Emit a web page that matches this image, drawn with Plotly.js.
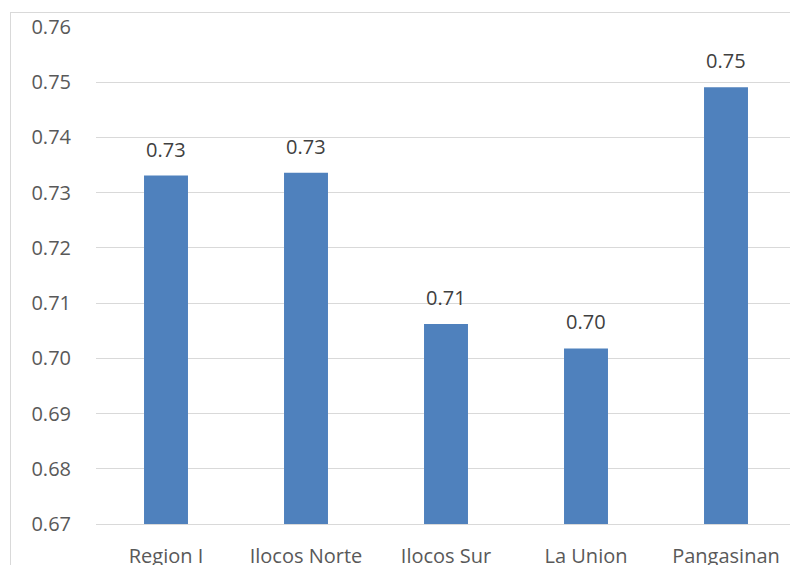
<!DOCTYPE html>
<html>
<head>
<meta charset="utf-8">
<script src="https://cdn.plot.ly/plotly-3.0.1.min.js"></script>
<style>
html,body{margin:0;padding:0;overflow:hidden;background:#fff;width:790px;height:565px;}
#chart{position:absolute;left:0;top:0;width:796px;height:600px;}
#frame{position:absolute;left:10px;top:12px;width:900px;height:700px;border-left:1px solid #d9d9d9;border-top:1px solid #d9d9d9;pointer-events:none;}
</style>
</head>
<body>
<div id="chart"></div>
<div id="frame"></div>
<script>
const categories = ["Region I", "Ilocos Norte", "Ilocos Sur", "La Union", "Pangasinan"];
const values = [0.7331, 0.7336, 0.7062, 0.7018, 0.7491];
const yTicks = [0.67, 0.68, 0.69, 0.70, 0.71, 0.72, 0.73, 0.74, 0.75, 0.76];
const yTickLabels = yTicks.map(v => v.toFixed(2));

const FONT = "Open Sans, Noto Sans, sans-serif";

const trace = {
  type: "bar",
  x: categories,
  y: values,
  base: 0,
  marker: {color: "#4f81bd", line: {width: 0}},
  hoverinfo: "none"
};

const annotations = categories.map((c, i) => ({
  x: c, y: values[i], xref: "x", yref: "y",
  text: values[i].toFixed(2), showarrow: false,
  yanchor: "bottom", yshift: 11,
  font: {family: FONT, size: 20, color: "#404040"}
}));

const layout = {
  width: 796, height: 600,
  margin: {l: 96, r: 0, t: 27, b: 76},
  paper_bgcolor: "rgba(0,0,0,0)",
  plot_bgcolor: "rgba(0,0,0,0)",
  showlegend: false,
  bargap: 0.686,
  xaxis: {
    type: "category",
    showgrid: false, zeroline: false,
    showline: true, linecolor: "#d9d9d9", linewidth: 1,
    ticks: "outside", ticklen: 14, tickcolor: "rgba(0,0,0,0)",
    tickfont: {family: FONT, size: 20, color: "#595959"},
    fixedrange: true
  },
  yaxis: {
    range: [0.67, 0.76],
    tickvals: yTicks, ticktext: yTickLabels,
    showgrid: true, gridcolor: "#d9d9d9", gridwidth: 1,
    zeroline: false, showline: false,
    ticks: "outside", ticklen: 20, tickcolor: "rgba(0,0,0,0)",
    tickfont: {family: FONT, size: 20, color: "#595959"},
    fixedrange: true
  },
  annotations: annotations
};

Plotly.newPlot("chart", [trace], layout, {staticPlot: true, displayModeBar: false});
</script>
</body>
</html>
